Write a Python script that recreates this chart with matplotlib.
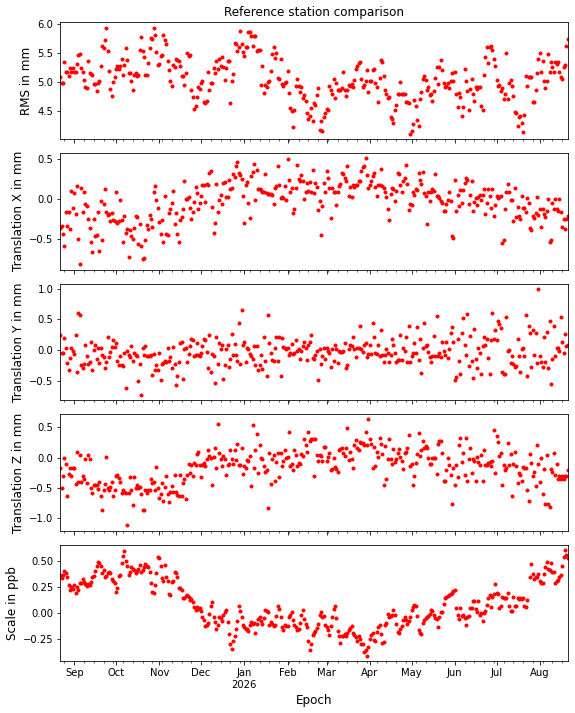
import matplotlib
matplotlib.use("Agg")
import matplotlib.pyplot as plt
import matplotlib.dates as mdates
import numpy as np
import pandas as pd

nan = float("nan")
start_date = "2025-08-22"
end_date = "2026-08-21"

title = "Reference station comparison"
ylabels = ["RMS in mm", "Translation X in mm", "Translation Y in mm",
           "Translation Z in mm", "Scale in ppb"]
xlabel = "Epoch"

rms_a = [
    5.08, 4.98, 4.99, 5.35, 5.18, 5.18, 5.10, 5.25, 5.18, 5.25, 5.18,
    5.17, 5.31, 5.46, 5.48, 5.24, 5.17, 5.03, 4.92, 4.89, 5.37,
    5.15, 5.14, 5.13, 4.96, 4.97, 4.85, 4.99, 5.01, 5.28, 5.63,
    5.58, 5.72, 5.94, 5.53, 5.19, 4.88, 4.76, 5.00, 5.09, 5.22,
    5.28, 5.23, 5.27, 5.39, 5.12, 5.29, 5.59, 5.38, 5.15, 5.16,
    5.01, 4.86, 5.12, 5.16, 5.11, 5.12, 5.55, 5.77, 5.53, 5.44,
    5.12, 5.12, 5.33, 5.58, 5.76, 5.74, 5.93, 5.81, 5.52, 5.29,
    5.31, 5.45, 5.47, 5.82, 5.72, 5.65, 5.37, 5.20, 5.02, 4.93,
    5.29, 5.26, 5.40, 5.38, 5.37, 5.28, 5.10, 5.11, 4.95, 5.16,
    5.51, 5.45, 5.47, 4.87, 4.75, 4.54, 4.58, 4.74, 4.91, 4.88,
    4.99, 5.02, 4.66, 4.63, 4.68, 5.17, 4.86, 4.99, 4.98, 5.24,
    5.15, 5.37, 5.22, 5.39, 5.28, 5.44, 5.26, 5.03, 5.24, 5.37,
    5.37, 4.64, 5.02, 5.14, 5.68, 5.66, 5.54, 5.61, 5.88, 5.66, 5.52,
    5.45, 5.60, 5.60, 5.87, 5.87, 5.80, 5.63, 5.79, 5.79, 5.53, 5.55,
    5.56, 4.95, 5.27, 4.81, 4.95, 4.92, 5.00, 5.02, 5.19, 5.48,
    5.61, 5.41, 5.51, 5.07, 5.06, 5.40, 4.97, 4.93, 4.99, 5.00, 5.19,
    4.81, 4.56, 4.50, 4.23, 4.52, 4.94, 5.06, 4.94, 4.83, 4.92, 4.73,
    4.78, 4.67, 4.47, 4.36, 4.41, 4.55,
]
rms_b = [
    4.32, 4.63, 4.61, 4.77, 4.90, 4.18, 4.33, 4.16, 4.40, 4.46, 4.54, 4.52,
    4.93, 4.86, 4.79, 5.05, 4.73, 4.99, 4.87, 4.87, 4.87, 4.89,
    5.18, 4.87, 4.76, 4.87, 4.95, 4.93, 4.97, 4.91, 5.03, 5.22,
    5.28, 5.33, 5.35, 5.06, 4.91, 4.95, 5.01, 5.20, 4.83,
    5.01, 5.02, 5.20, 5.22, 4.98, 4.91, 4.65, 5.07, 5.38, 5.35,
    5.11, 4.86, 4.79, 4.73, 4.75, 4.39, 4.37, 4.29, 4.52,
    4.61, 4.79, 4.79, 5.00, 4.79, 4.79, 4.79, 4.65, 4.66, 4.63,
    4.11, 4.15, 4.27, 4.69, 4.59, 4.35, 4.24, 4.71, 4.83,
    5.06, 5.11, 5.03, 4.87, 4.92, 4.78, 4.79, 4.67, 4.85, 5.07,
    5.26, 4.97, 5.26, 5.38, 5.21, 4.99, 4.91, 4.93, 4.98,
    4.90, 5.01, 5.15, 5.01, 5.18, 4.79, 4.57, 4.81, 4.74, 4.41,
    4.57, 5.22, 5.01, 4.85, 4.52, 4.88, 5.06, 4.79, 4.67,
    4.91, 4.88, 4.92, 4.91, 4.59, 4.51, 5.13, 5.44, 5.61, 5.33,
    5.61, 5.63, 5.55, 5.40, 5.28, 5.03, 4.93, 4.95, 4.85,
    4.89, 4.71, 4.79, 5.51, 4.70, 4.98, 5.03, 4.94, 4.76, 4.48,
    4.46, 4.25, 4.39, 4.42, 4.30, 4.13, 4.44, 5.10, 4.93,
    5.08, 5.08, 5.09, 4.66, 4.66, 4.86, 5.15, 5.39, 5.50, 5.17,
    5.36, 5.01, 4.90, 5.02, 5.49, 5.18, 5.34, 5.26, 5.18, 5.34,
    5.31, 5.34, 5.17, 5.09, 5.05, 5.26, 5.30, 5.63, 5.74,
]

tx_a = [
    -0.37, -0.34, -0.44, -0.59, -0.17, -0.34, -0.17, -0.38, 0.10, -0.12,
    0.07, -0.19, 0.16, -0.50, -0.82, 0.14, -0.16, 0.08, -0.06, -0.09,
    -0.25, -0.37, -0.54, -0.67, -0.25, -0.47, -0.45, -0.17, -0.66, -0.03,
    -0.51, -0.06, 0.13, -0.16, -0.20, -0.19, -0.28, -0.18, -0.27, -0.28,
    0.08, -0.30, -0.28, -0.02, -0.26, -0.54, -0.21, -0.43, -0.38, -0.73,
    -0.39, -0.46, -0.50, -0.37, -0.22, -0.23, -0.57, -0.31, -0.59, -0.76,
    -0.74, -0.51, -0.33, -0.38, -0.20, -0.25, -0.35, 0.08, 0.16, -0.02,
    -0.12, -0.29, -0.44, -0.26, -0.54, 0.03, -0.44, -0.45, -0.18, -0.13,
    -0.05, 0.10, -0.32, -0.18, -0.44, -0.54, -0.26, -0.23, -0.13, 0.23,
    0.00, 0.00, 0.02, -0.12, -0.25, -0.16, -0.04, 0.15, 0.07, -0.13,
    -0.05, 0.04, 0.18, 0.18, -0.04, 0.19, 0.18, 0.33, 0.35, -0.10,
    -0.43, -0.30, 0.19, -0.17, -0.01, 0.05, -0.07, 0.20, 0.21, 0.02,
    0.02, 0.24, 0.13, 0.14, 0.31, 0.27, 0.41, 0.46, 0.33, 0.30,
    0.25, 0.03, -0.30, 0.18, 0.21, -0.05, -0.24, 0.29, 0.34, 0.44,
    -0.02, 0.36, 0.13, 0.13, 0.11, 0.09, 0.09, 0.31, 0.07, 0.06,
    0.06, 0.06, 0.05, -0.07, 0.14, 0.16, 0.41, 0.18, 0.01, 0.02,
    0.01, 0.16, -0.02, 0.50, 0.24, 0.09, 0.14, -0.18, -0.13, 0.14,
    0.43, 0.25, 0.23, 0.30, 0.22, 0.00, 0.08, 0.20, 0.10, 0.21, 0.08,
]
tx_b = [
    0.36, 0.07, 0.20, 0.15, -0.14, -0.03, -0.45, -0.09, 0.20, 0.08,
    0.35, 0.26, 0.14, -0.24, 0.14, 0.08, 0.09, -0.08, 0.08, 0.16,
    0.19, 0.33, 0.31, 0.26, 0.23, 0.41, 0.03, 0.15, 0.02, 0.17,
    0.15, 0.18, 0.18, 0.23, 0.23, 0.35, 0.40, 0.41,
    0.51, 0.30, 0.14, 0.18, 0.22, 0.29, 0.33, 0.15, 0.04, 0.18,
    0.18, 0.38, 0.16, 0.14, 0.09, 0.02, -0.13, -0.27, 0.06, 0.14,
    0.13, -0.03, 0.10, 0.32, 0.31, 0.17, 0.08, 0.22, 0.26,
    0.43, 0.19, -0.14, -0.07, -0.08, 0.08, 0.05, 0.12, 0.11,
    0.33, 0.24, 0.19, 0.34, 0.07, 0.03, -0.31, 0.08, -0.03, 0.08,
    0.12, 0.10, 0.31, 0.03, 0.04, 0.01, -0.03, -0.05, -0.15, -0.15,
    -0.07, -0.01, 0.08, -0.03, -0.46, -0.49, 0.24, -0.15, 0.05, -0.09,
    0.11, -0.05, 0.11, 0.20, 0.26, 0.24, -0.06, 0.05, 0.23, -0.15,
    -0.04, 0.01, -0.08, 0.02, 0.05, -0.01, 0.05, 0.13, -0.19,
    -0.05, 0.13, 0.03, -0.11, 0.13, -0.21, -0.08, 0.04, 0.01, 0.02,
    0.03, -0.55, -0.51, -0.13, 0.08, 0.19, 0.09, -0.01, -0.02, -0.28,
    0.14, -0.23, -0.10, -0.22, -0.25, 0.04, -0.11, -0.12, -0.17, 0.01,
    -0.05, -0.36, -0.39, -0.21, -0.24, -0.18, 0.02, -0.20, -0.13,
    -0.35, -0.13, -0.19, -0.23, -0.15, 0.00, -0.54, -0.51, -0.05, -0.13,
    0.00, -0.13, -0.15, 0.00, -0.16, -0.35, -0.25, -0.38, -0.25, -0.21,
]

ty_a = [
    0.24, -0.05, -0.05, 0.20, 0.04, -0.21, -0.33, -0.13, 0.03, -0.02,
    -0.06, 0.25, -0.36, 0.61, 0.57, -0.25, -0.29, -0.23, 0.08,
    -0.09, -0.23, -0.20, 0.13, -0.32, 0.00, 0.09, -0.15, 0.03, -0.21,
    0.03, -0.08, -0.12, -0.30, -0.20, 0.22, -0.11, -0.03, 0.05,
    0.16, 0.05, 0.11, -0.18, -0.25, -0.09, -0.24, -0.26, -0.04, -0.62,
    -0.01, -0.08, -0.11, 0.06, -0.18, -0.05, -0.08, -0.10, -0.51,
    -0.23, -0.73, 0.04, -0.08, 0.07, -0.10, -0.09, -0.10, -0.08, -0.40,
    -0.06, -0.33, -0.24, -0.33, -0.05, -0.49, -0.23, -0.21, -0.18,
    -0.20, 0.03, -0.18, -0.11, -0.30, 0.05, -0.22, -0.57, -0.43, -0.20,
    0.11, 0.13, -0.47, 0.02, 0.03, -0.20, -0.06, 0.06, 0.18,
    0.17, -0.09, -0.08, 0.11, -0.08, -0.10, -0.05, 0.06, 0.18, 0.16,
    -0.03, -0.30, 0.25, -0.35, -0.06, -0.10, -0.54, 0.22, -0.23,
    0.11, 0.01, 0.09, -0.47, -0.24, 0.02, 0.09, -0.27, -0.15, 0.26,
    -0.08, 0.10, -0.08, -0.18, 0.45, -0.22, 0.65, 0.09, 0.13,
    -0.19, 0.04, 0.02, -0.07, -0.10, -0.14, 0.06, -0.24, 0.07, -0.33,
    -0.24, -0.08, -0.31, 0.21, -0.18, -0.43, 0.58, 0.11, -0.05,
    -0.16, -0.17, 0.04, 0.21, -0.17, 0.21, -0.43, 0.20, 0.05, 0.04,
    0.01, 0.04, -0.08, -0.04, 0.10, -0.06, -0.04, 0.16, -0.01,
    0.02, -0.15, -0.02, 0.06, 0.13, 0.04, -0.16, 0.09,
]
ty_b = [
    0.13, 0.24, -0.13, -0.15, -0.08, -0.01, -0.49, 0.01, -0.23, -0.09,
    0.03, -0.14, 0.03, -0.01, -0.04, -0.27, 0.02, -0.17, 0.08,
    0.02, -0.21, -0.01, -0.03, -0.03, -0.01, 0.11, -0.29, -0.24, 0.01,
    0.08, 0.06, 0.21, 0.01, -0.11, 0.04, 0.04, 0.40, 0.02, -0.03,
    0.09, 0.11, -0.11, -0.07, 0.08, -0.07, 0.44, 0.21, -0.04,
    -0.07, 0.08, -0.10, 0.32, -0.08, -0.20, -0.08, 0.01, -0.05, -0.20,
    -0.08, 0.18, 0.08, -0.05, -0.20, -0.16, -0.16, 0.24, -0.16, 0.04,
    -0.01, 0.22, -0.20, 0.39, -0.20, -0.10, -0.05, 0.11, -0.05,
    0.37, -0.16, 0.18, -0.38, 0.03, 0.44, 0.06, 0.09, -0.03, -0.12,
    -0.20, -0.09, 0.23, -0.09, 0.55, -0.10, -0.05, -0.12, 0.14, -0.02,
    -0.08, 0.14, -0.13, 0.01, 0.28, 0.38, 0.14, -0.49, -0.44,
    0.18, -0.17, -0.39, 0.28, 0.52, 0.09, -0.08, 0.59, -0.26, 0.23,
    -0.18, -0.45, 0.34, -0.15, -0.29, 0.04, -0.05, -0.39, 0.06, 0.22,
    0.08, 0.18, -0.13, -0.39, 0.16, 0.61, 0.18, 0.32, 0.17,
    0.48, 0.42, 0.36, -0.36, -0.39, -0.39, 0.54, -0.02, 0.00, -0.21,
    -0.10, -0.23, -0.27, -0.26, 0.18, -0.10, -0.36, 0.02, 0.03, -0.09,
    0.58, -0.43, 0.39, 0.28, -0.28, 0.32, -0.08, 0.28, -0.21,
    1.00, -0.09, -0.20, -0.28, 0.22, -0.20, 0.29, -0.29, 0.48, -0.55,
    -0.14, 0.39, -0.09, 0.04, 0.03, -0.02, 0.54, 0.14, -0.05, 0.26,
    0.06, 0.08,
]

tz_a = [
    -0.18, -0.50, -0.31, 0.00, -0.10, -0.64, -0.27, -0.18, -0.30, -0.18,
    -0.18, -0.43, 0.09, -0.40, 0.04, -0.40, -0.31, -0.35, -0.02,
    -0.42, 0.05, -0.02, -0.50, -0.58, -0.45, -0.45, -0.46, -0.52, -0.40,
    -0.64, -0.86, -0.53, -0.43, 0.01, -0.50, -0.53, -0.49, -0.40,
    -0.64, -0.53, -0.31, -0.28, -0.34, -0.40, -0.58, -0.53, -0.57, -0.58,
    -1.12, -0.58, -0.32, -0.54, -0.79, -0.32, -0.50, -0.46, -0.51,
    -0.49, -0.60, -0.86, -0.87, -0.53, -0.58, -0.53, -0.54, -0.35, -0.42,
    -0.40, -0.53, -0.15, -0.50, -0.66, -0.60, -0.42, -0.72, -0.49,
    -0.30, -0.60, -0.73, -0.57, -0.47, -0.57, -0.28, -0.57, -0.61, -0.64,
    -0.29, -0.64, -0.42, -0.36, -0.69, -0.28, -0.10, -0.26, -0.13,
    -0.31, -0.09, -0.13, 0.06, 0.09, -0.12, -0.32, -0.12, -0.09, -0.14,
    -0.03, 0.13, 0.02, -0.01, -0.46, 0.01, 0.15, -0.17, 0.56,
    0.08, -0.02, -0.14, 0.02, -0.02, -0.28, -0.13, -0.10, 0.13, -0.02,
    -0.10, 0.12, -0.04, 0.23, -0.13, -0.13, 0.15, -0.27, -0.14,
    -0.17, -0.04, -0.05, 0.02, -0.47, 0.54, -0.17, 0.12, 0.39, -0.25,
    0.21, -0.01, -0.03, -0.14, -0.23, -0.20, -0.83, 0.08, -0.43,
    -0.03, 0.05, -0.39, -0.07, 0.08, -0.32, 0.08, -0.14, -0.05, 0.13,
    -0.01, 0.01, 0.43, -0.14, -0.10, -0.20, 0.13, 0.05, -0.14,
    -0.09, -0.10, 0.06, 0.02, 0.31, 0.21, 0.10, 0.42,
]
tz_b = [
    0.27, 0.30, 0.31, -0.31, 0.31, 0.05, -0.06, 0.05, 0.02, -0.05,
    0.18, 0.18, -0.06, 0.01, 0.08, -0.20, -0.19, -0.01, -0.15,
    -0.19, -0.23, 0.13, 0.14, 0.16, 0.08, 0.03, 0.16, 0.49, -0.04,
    0.09, -0.02, -0.18, 0.20, 0.29, 0.16, 0.12, 0.25, 0.24, 0.24,
    0.21, 0.43, 0.21, 0.63, 0.31, 0.23, -0.17, 0.18, -0.14,
    0.10, 0.01, 0.33, 0.23, 0.06, -0.46, 0.19, -0.36, -0.02, 0.31,
    -0.02, -0.10, 0.14, -0.07, -0.02, 0.07, 0.14, 0.01, -0.05, -0.19,
    0.08, 0.10, 0.16, 0.37, -0.14, -0.10, -0.45, -0.31, -0.09,
    0.06, 0.41, 0.02, 0.13, 0.27, 0.16, 0.19, 0.15, -0.01, -0.10,
    -0.10, -0.01, -0.01, -0.01, -0.27, 0.23, 0.28, 0.27, 0.08, -0.38,
    -0.39, -0.20, -0.01, -0.13, -0.28, -0.77, -0.17, -0.46, -0.12,
    -0.32, 0.21, 0.32, -0.08, 0.08, -0.28, 0.32, -0.39, -0.02, 0.15,
    -0.26, -0.03, -0.05, -0.39, 0.01, -0.07, -0.13, 0.05, -0.38, 0.13,
    -0.13, -0.12, -0.09, -0.07, -0.14, -0.06, 0.45, -0.26, 0.36,
    0.25, 0.02, 0.08, -0.46, -0.13, -0.20, -0.17, 0.24, -0.12, 0.06,
    -0.63, -0.10, 0.09, -0.14, -0.42, -0.25, -0.28, -0.38, -0.15, -0.17,
    -0.18, -0.53, -0.72, 0.06, -0.09, -0.30, -0.24, -0.47, 0.20,
    -0.10, -0.41, -0.01, -0.60, -0.19, -0.76, 0.05, -0.76, -0.82, -0.19,
    -0.24, 0.07, -0.28, -0.10, -0.35, -0.31, -0.36, -0.30, -0.36, -0.30,
    -0.30, -0.20,
]

sc_a = [
    0.37, 0.34, 0.37, 0.41, 0.39, 0.35, 0.27, 0.22, 0.25, 0.23,
    0.27, 0.19, 0.25, 0.22, 0.29, 0.29, 0.33, 0.30, 0.28,
    0.26, 0.28, 0.27, 0.30, 0.35, 0.36, 0.41, 0.45, 0.49, 0.48,
    0.45, 0.39, 0.42, 0.35, 0.36, 0.39, 0.40, 0.39, 0.33,
    0.31, 0.29, 0.20, 0.24, 0.36, 0.37, 0.48, 0.55, 0.60, 0.50,
    0.45, 0.37, 0.40, 0.44, 0.43, 0.42, 0.39, 0.41, 0.43,
    0.46, 0.40, 0.42, 0.44, 0.47, 0.45, 0.44, 0.40, 0.29, 0.20,
    0.19, 0.27, 0.39, 0.54, 0.53, 0.45, 0.34, 0.31, 0.46,
    0.35, 0.31, 0.18, 0.17, 0.30, 0.31, 0.40, 0.39, 0.35, 0.24,
    0.24, 0.22, 0.14, 0.14, 0.16, 0.17, 0.15, 0.12, 0.13,
    0.10, 0.06, 0.03, 0.06, 0.04, 0.05, 0.02, -0.04, -0.07, -0.13,
    -0.12, -0.10, -0.01, 0.07, 0.10, -0.04, -0.09, -0.16, -0.12,
    -0.04, -0.05, -0.08, -0.02, 0.01, 0.03, -0.09, -0.21, -0.30, -0.35,
    -0.27, -0.23, -0.16, -0.08, 0.07, 0.02, -0.04, -0.12, -0.14,
    -0.16, -0.16, -0.18, -0.12, -0.09, -0.11, -0.10, -0.20, -0.11, -0.06,
    -0.04, -0.08, -0.11, -0.05, 0.03, 0.02, 0.01, -0.12, -0.09,
    -0.11, -0.13, -0.12, -0.03, 0.07, 0.04, -0.04, -0.14, -0.17, -0.12,
    -0.13, -0.13, -0.04, -0.02, 0.01, -0.07, -0.12, -0.14, -0.17, -0.16,
    -0.10, -0.02, 0.03, -0.06, -0.11, -0.14, -0.27,
]
sc_b = [
    -0.36, -0.30, -0.22, -0.20, -0.18, -0.15, -0.11, -0.02, 0.01, -0.04,
    -0.03, -0.12, -0.14, -0.17, -0.22, -0.13, -0.04, 0.04, 0.07,
    -0.05, -0.18, -0.23, -0.29, -0.23, -0.23, -0.21, -0.23, -0.20, -0.17,
    -0.15, -0.13, -0.20, -0.22, -0.24, -0.27, -0.23, -0.25, -0.30, -0.30,
    -0.38, -0.36, -0.42, -0.33, -0.25, -0.22, -0.20, -0.26, -0.27,
    -0.19, -0.14, -0.12, -0.21, -0.29, -0.28, -0.12, -0.10, -0.01, -0.04,
    -0.03, -0.02, 0.03, -0.02, -0.11, -0.19, -0.20, -0.16, -0.13, -0.07,
    -0.04, -0.07, -0.11, -0.08, -0.04, 0.03, 0.06, 0.08, 0.07,
    -0.03, -0.17, -0.20, -0.21, -0.10, -0.07, -0.05, -0.04, -0.03, -0.01,
    0.03, 0.02, -0.02, -0.05, -0.06, -0.14, -0.04, 0.01, 0.01, 0.09,
    0.14, 0.15, 0.16, 0.17, 0.18, 0.19, 0.21, 0.22, 0.05,
    -0.02, -0.06, 0.05, -0.03, -0.02, -0.05, -0.12, -0.04, -0.03, 0.05,
    0.05, 0.11, 0.11, 0.04, 0.01, 0.11, -0.02, 0.00, -0.08, 0.00,
    0.02, 0.08, 0.14, 0.17, 0.06, 0.15, 0.18, 0.28, 0.19,
    0.18, 0.05, 0.07, 0.15, 0.14, 0.14, 0.14, 0.19, 0.07, 0.02,
    0.02, 0.15, 0.07, 0.07, 0.14, 0.13, 0.14, 0.13, 0.14, 0.07,
    0.06, 0.12, nan, 0.35, 0.47, 0.38, 0.33, 0.35, 0.35,
    0.38, 0.31, 0.29, 0.29, 0.38, 0.44, 0.49, 0.43, 0.42, 0.48,
    0.40, 0.40, 0.29, 0.31, 0.32, 0.35, 0.37, 0.45, 0.54, 0.61,
    0.56, 0.53,
]

series = [rms_a + rms_b, tx_a + tx_b, ty_a + ty_b, tz_a + tz_b, sc_a + sc_b]

DPI = 72
fig, axes = plt.subplots(5, 1, sharex=True,
                         figsize=(575 / DPI, 713 / DPI), dpi=DPI)
fig.subplots_adjust(left=0.1049, right=0.9873, top=0.9687, bottom=0.0725,
                    hspace=0.12)

for ax, vals, lab in zip(axes, series, ylabels):
    dates = pd.date_range(start_date, periods=len(vals), freq="D")
    ax.plot(dates, np.array(vals, dtype=float), linestyle="none",
            marker=".", color="red")
    ax.set_ylabel(lab, fontsize=12)
    ax.tick_params(labelsize=10)

axes[0].set_title(title, fontsize=12)
axes[-1].set_xlabel(xlabel, fontsize=12)
axes[-1].set_xlim(pd.Timestamp(start_date), pd.Timestamp(end_date))


def month_fmt(x, pos=None):
    d = mdates.num2date(x)
    return d.strftime("%b\n%Y") if d.month == 1 else d.strftime("%b")


axes[-1].xaxis.set_major_locator(mdates.MonthLocator())
axes[-1].xaxis.set_major_formatter(plt.FuncFormatter(month_fmt))
axes[-1].xaxis.set_minor_locator(mdates.WeekdayLocator(byweekday=mdates.MO))
for lbl in axes[-1].get_xticklabels():
    lbl.set_horizontalalignment("center")

fig.savefig("out.png", dpi=DPI)
